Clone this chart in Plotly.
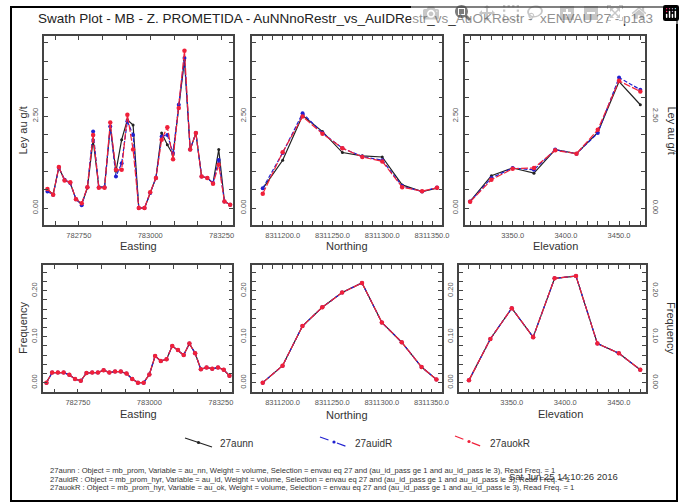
import plotly.graph_objects as go

W, H = 685, 504

# ---------------- data ----------------
easting = [782640, 782660, 782680, 782700, 782720, 782740, 782760, 782780, 782800, 782820,
           782840, 782860, 782880, 782900, 782920, 782940, 782960, 782980, 783000, 783020,
           783040, 783060, 783080, 783100, 783120, 783140, 783160, 783180, 783200, 783220,
           783240, 783260, 783280]
e_aunn = [0.50, 0.38, 1.10, 0.77, 0.68, 0.24, 0.11, 0.55, 1.86, 0.57, 0.57, 2.22, 1.00, 1.86, 2.40, 2.26,
          0.00, 0.00, 0.41, 0.82, 2.04, 1.72, 1.45, 2.81, 4.03, 1.59, 2.04, 0.86, 0.82, 0.68, 1.59, 0.18, 0.09]
e_auidR = [0.45, 0.36, 1.10, 0.77, 0.68, 0.24, 0.08, 0.57, 2.08, 0.57, 0.57, 2.22, 0.86, 1.22, 2.36, 1.99,
           0.00, 0.00, 0.41, 0.82, 1.95, 1.99, 1.50, 2.81, 4.08, 1.59, 2.04, 0.86, 0.82, 0.68, 1.31, 0.18, 0.09]
e_auokR = [0.52, 0.36, 1.12, 0.75, 0.70, 0.24, 0.13, 0.57, 1.99, 0.55, 0.55, 2.33, 1.04, 1.04, 2.54, 1.59,
           0.00, 0.00, 0.43, 0.82, 1.86, 2.20, 1.33, 2.72, 4.28, 1.59, 2.04, 0.86, 0.82, 0.66, 1.18, 0.18, 0.09]
e_freq = [0.000, 0.022, 0.022, 0.022, 0.017, 0.008, 0.004, 0.021, 0.022, 0.022, 0.027, 0.022, 0.024, 0.024,
          0.020, 0.008, 0.000, 0.000, 0.018, 0.058, 0.047, 0.051, 0.080, 0.071, 0.060, 0.085, 0.064, 0.029,
          0.033, 0.030, 0.033, 0.028, 0.015]

northing = [8311180, 8311200, 8311220, 8311240, 8311260, 8311280, 8311300, 8311320, 8311340, 8311355]
n_aunn = [0.53, 1.30, 2.52, 2.08, 1.51, 1.42, 1.39, 0.63, 0.45, 0.54]
n_auidR = [0.54, 1.50, 2.58, 2.04, 1.63, 1.40, 1.30, 0.60, 0.45, 0.56]
n_auokR = [0.39, 1.52, 2.49, 2.02, 1.63, 1.39, 1.27, 0.57, 0.46, 0.55]
n_freq = [0.000, 0.037, 0.123, 0.164, 0.196, 0.217, 0.131, 0.088, 0.034, 0.007]

elevation = [3310, 3330, 3350, 3370, 3390, 3410, 3430, 3450, 3470]
z_aunn = [0.18, 0.88, 1.09, 0.95, 1.59, 1.48, 2.06, 3.44, 2.81]
z_auidR = [0.18, 0.82, 1.09, 1.04, 1.59, 1.48, 2.04, 3.55, 3.22]
z_auokR = [0.17, 0.77, 1.07, 1.09, 1.57, 1.48, 2.13, 3.46, 3.17]
z_freq = [0.005, 0.095, 0.162, 0.099, 0.227, 0.232, 0.085, 0.064, 0.028]

series_names = ["27aunn", "27auidR", "27auokR"]
title_text = "Swath Plot - MB - Z. PROMETIDA - AuNNnoRestr_vs_AuIDRestr_vs_AuOKRestr -  xENVAU 27 - p1a3"
footer_lines = [
    "27aunn : Object = mb_prom, Variable = au_nn, Weight = volume, Selection = envau eq 27 and (au_id_pass ge 1 and au_id_pass le 3), Read Freq. = 1",
    "27auidR : Object = mb_prom_hyr, Variable = au_id, Weight = volume, Selection = envau eq 27 and (au_id_pass ge 1 and au_id_pass le 3), Read Freq. = 1",
    "27auokR : Object = mb_prom_hyr, Variable = au_ok, Weight = volume, Selection = envau eq 27 and (au_id_pass ge 1 and au_id_pass le 3), Read Freq. = 1",
]
date_text = "Sat Jun 25 14:10:26 2016"

# ---------------- styling ----------------
FONT = "Liberation Sans, Arial, sans-serif"
AX = "#444444"
TICKC = "#555555"
styles = [
    dict(color="#222222", dash="solid", msize=3),
    dict(color="#2020d0", dash="4px,2px", msize=4),
    dict(color="#f0203a", dash="7px,2px", msize=4.5),
]


def fx(x):
    return x / W


def fy(y):
    return 1 - y / H


fig = go.Figure()

panels = [
    (easting, [e_aunn, e_auidR, e_auokR], (44.3, 233), (36, 225)),
    (northing, [n_aunn, n_auidR, n_auokR], (252.3, 442.3), (36, 225)),
    (elevation, [z_aunn, z_auidR, z_auokR], (465, 645), (36, 225)),
    (easting, [e_freq, e_freq, e_freq], (43.3, 232.3), (265, 392.3)),
    (northing, [n_freq, n_freq, n_freq], (252.3, 441.7), (265, 392.3)),
    (elevation, [z_freq, z_freq, z_freq], (459.3, 645.7), (265, 392.3)),
]
xranges = [[782629, 783290], [8311169.5, 8311360.3], [3305.2, 3474.4],
           [782629, 783290], [8311169.5, 8311360.3], [3301, 3475.1]]
xfmt = ["d", ".1f", ".1f", "d", ".1f", ".1f"]
xdt = [(250, 782750, 250 / 3), (50, 8311200, 10), (50, 3350, 10),
       (250, 782750, 250 / 3), (50, 8311200, 10), (50, 3350, 10)]

layout = dict(width=W, height=H, margin=dict(l=0, r=0, t=0, b=0, pad=0, autoexpand=False),
              paper_bgcolor="white", plot_bgcolor="white", showlegend=False,
              font=dict(family=FONT, color="#333"))

for k, (xv, ys, xd, yd) in enumerate(panels):
    n = k + 1
    xa = "x" if n == 1 else f"x{n}"
    ya = "y" if n == 1 else f"y{n}"
    for s, yv, st in zip(series_names, ys, styles):
        fig.add_trace(go.Scatter(
            x=xv, y=yv, name=s, xaxis=xa, yaxis=ya, mode="lines+markers",
            line=dict(color=st["color"], width=1.2, dash=st["dash"]),
            marker=dict(color=st["color"], size=st["msize"]),
            hoverinfo="skip"))
    top = k < 3
    dt, t0, mdt = xdt[k]
    layout["xaxis" if n == 1 else f"xaxis{n}"] = dict(
        domain=[fx(xd[0]), fx(xd[1])], anchor=ya, range=xranges[k], automargin=False,
        showline=True, linecolor=AX, linewidth=1.5, mirror="ticks",
        ticks="inside", ticklen=4, tickcolor=AX, tickwidth=1,
        dtick=dt, tick0=t0, tickformat=xfmt[k], showgrid=False, zeroline=False,
        tickfont=dict(size=7.5, color=TICKC, family=FONT), ticklabelstandoff=2,
        minor=dict(dtick=mdt, tick0=t0, ticks="inside", ticklen=4, tickcolor=AX, showgrid=False))
    layout["yaxis" if n == 1 else f"yaxis{n}"] = dict(
        domain=[fy(yd[1]), fy(yd[0])], anchor=xa, automargin=False,
        range=[-0.46, 4.68] if top else [-0.021, 0.256],
        showline=True, linecolor=AX, linewidth=1.5, mirror="ticks",
        ticks="inside", ticklen=4, tickcolor=AX, tickwidth=1,
        dtick=2.5 if top else 0.1, tick0=0, tickformat=".2f", tickangle=-90,
        showgrid=False, zeroline=False,
        tickfont=dict(size=7.5, color=TICKC, family=FONT), ticklabelstandoff=2,
        minor=dict(dtick=0.5 if top else 0.02, tick0=0, ticks="inside", ticklen=4,
                   tickcolor=AX, showgrid=False))

# right-side label axes for the right column
for n_over, base, xa, rng, dt, yv, xv in [(7, 3, "x3", [-0.46, 4.68], 2.5, z_auokR, elevation),
                                          (8, 6, "x6", [-0.021, 0.256], 0.1, z_freq, elevation)]:
    fig.add_trace(go.Scatter(x=xv, y=yv, xaxis=xa, yaxis=f"y{n_over}", mode="markers",
                             marker=dict(opacity=0), hoverinfo="skip", showlegend=False))
    layout[f"yaxis{n_over}"] = dict(
        overlaying=f"y{base}", side="right", anchor=xa, range=rng, dtick=dt, tick0=0,
        automargin=False,
        tickformat=".2f", tickangle=90, showline=False, ticks="", showgrid=False, zeroline=False,
        tickfont=dict(size=7.5, color=TICKC, family=FONT), ticklabelstandoff=5)

fig.update_layout(**layout)

ann = []


def add_text(txt, x, y, size, xanchor="center", angle=0, color="#333"):
    ann.append(dict(x=fx(x), y=fy(y), xref="paper", yref="paper", text=txt, showarrow=False,
                    textangle=angle, font=dict(size=size, color=color, family=FONT),
                    xanchor=xanchor, yanchor="middle"))


add_text(title_text, 345.5, 18.5, 13.5, color="#222")
for txt, x, y, ang in [("Ley au g/t", 23, 130.5, -90), ("Frequency", 23, 328, -90),
                       ("Ley au g/t", 671, 130.5, 90), ("Frequency", 671, 328, 90)]:
    add_text(txt, x, y, 11, angle=ang)
for txt, x, y in [("Easting", 138.6, 246), ("Northing", 347, 246), ("Elevation", 555, 246),
                  ("Easting", 138, 414), ("Northing", 347, 414.5), ("Elevation", 560, 414)]:
    add_text(txt, x, y, 11)
for i, line in enumerate(footer_lines):
    add_text(line, 48, 470.5 + 8.5 * i, 7.6, xanchor="left")
add_text(date_text, 507, 476, 9.5, xanchor="left")

# legend (sloped glyphs as in the original)
shapes = []
leg = [((185, 438), (212, 447), 218), ((320, 437), (348, 447), 353), ((455, 436), (483, 447), 488)]
dash_map = ["solid", "dash", "dash"]
for (p0, p1, tx), st, name, dsh in zip(leg, styles, series_names, dash_map):
    shapes.append(dict(type="line", xref="paper", yref="paper",
                       x0=fx(p0[0]), y0=fy(p0[1]), x1=fx(p1[0]), y1=fy(p1[1]),
                       line=dict(color=st["color"], width=1.2, dash=dsh)))
    mx, my = (p0[0] + p1[0]) / 2, (p0[1] + p1[1]) / 2
    shapes.append(dict(type="circle", xref="paper", yref="paper",
                       x0=fx(mx - 1.6), x1=fx(mx + 1.6), y0=fy(my + 1.6), y1=fy(my - 1.6),
                       fillcolor=st["color"], line=dict(width=0)))
    add_text(name, tx, 443, 10, xanchor="left")

# outer frame
shapes.append(dict(type="rect", xref="paper", yref="paper", x0=fx(11), x1=fx(677),
                   y0=fy(501), y1=fy(7), line=dict(color="black", width=2)))

fig.update_layout(annotations=ann, shapes=shapes)
fig.write_html("out.html", post_script="document.body.style.margin='0px';")
